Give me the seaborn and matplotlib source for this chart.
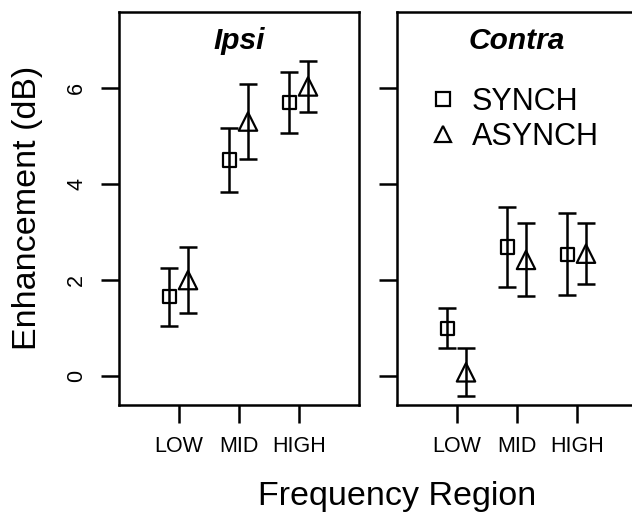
import numpy as np
import pandas as pd
import matplotlib
matplotlib.use('Agg')
import matplotlib.pyplot as plt
from matplotlib.lines import Line2D
import seaborn as sns

# data, mean and half-range of the error bar
regions = ['LOW', 'MID', 'HIGH']
conds = ['SYNCH', 'ASYNCH']
panels = ['Ipsi', 'Contra']

ipsi_synch = [1.65, 4.50, 5.70]
ipsi_synch_err = [0.61, 0.67, 0.64]
ipsi_asynch = [2.00, 5.30, 6.03]
ipsi_asynch_err = [0.68, 0.79, 0.53]

contra_synch = [1.00, 2.69, 2.54]
contra_synch_err = [0.42, 0.83, 0.85]
contra_asynch = [0.08, 2.42, 2.55]
contra_asynch_err = [0.50, 0.76, 0.63]

rows = []
vals = {('Ipsi', 'SYNCH'): (ipsi_synch, ipsi_synch_err),
        ('Ipsi', 'ASYNCH'): (ipsi_asynch, ipsi_asynch_err),
        ('Contra', 'SYNCH'): (contra_synch, contra_synch_err),
        ('Contra', 'ASYNCH'): (contra_asynch, contra_asynch_err)}
for (p, c), (m, e) in vals.items():
    for i, r in enumerate(regions):
        rows.append({'panel': p, 'cond': c, 'region': r, 'pos': i + 1, 'mean': m[i], 'err': e[i]})
df = pd.DataFrame(rows)

sns.set_theme(style='white')
plt.rcParams['font.family'] = ['Liberation Sans', 'DejaVu Sans']
plt.rcParams['text.color'] = 'black'
plt.rcParams['axes.labelcolor'] = 'black'

offset = {'SYNCH': -0.16, 'ASYNCH': 0.15}
marker = {'SYNCH': 's', 'ASYNCH': '^'}
msize = {'SYNCH': 90, 'ASYNCH': 175}
lw = 1.8

fig = plt.figure(figsize=(6.32, 5.16), dpi=100)
ax1 = fig.add_axes([119/632, 111/516, 240/632, 393/516])
ax2 = fig.add_axes([397/632, 111/516, 240/632, 393/516])

for ax, p in zip([ax1, ax2], panels):
    for c in conds:
        d = df[(df.panel == p) & (df.cond == c)].copy()
        d['x'] = d['pos'] + offset[c]
        ax.errorbar(d['x'], d['mean'], yerr=d['err'], fmt='none', ecolor='black',
                    elinewidth=lw, capsize=6.5, capthick=lw, zorder=2)
        sns.scatterplot(data=d, x='x', y='mean', marker=marker[c], s=msize[c],
                        color='black', facecolor='none', edgecolor='black',
                        linewidth=1.6, ax=ax, zorder=3, legend=False)
    ax.set_xlim(0, 4)
    ax.set_ylim(-0.6, 7.58)
    ax.set_xticks([1, 2, 3])
    ax.set_xticklabels(regions)
    ax.set_yticks([0, 2, 4, 6])
    ax.set_xlabel('')
    ax.set_ylabel('')
    for s in ax.spines.values():
        s.set_visible(True)
        s.set_color('black')
        s.set_linewidth(lw)
    ax.tick_params(axis='both', which='major', length=13, width=lw, color='black',
                   labelsize=15.5, labelcolor='black', left=True, bottom=True)
    ax.tick_params(axis='x', pad=9)
    ax.tick_params(axis='y', pad=10)
    ax.text(0.5, 0.925, p, transform=ax.transAxes, ha='center', va='center',
            fontsize=21.5, fontweight='bold', fontstyle='italic')

plt.setp(ax1.get_yticklabels(), rotation=90, va='center')
ax2.set_yticklabels([])

handles = [Line2D([], [], marker='s', ls='none', mfc='none', mec='black', ms=9.5, mew=1.6),
           Line2D([], [], marker='^', ls='none', mfc='none', mec='black', ms=11, mew=1.6)]
ax2.legend(handles, conds, loc='upper left', bbox_to_anchor=(0.063, 0.848), frameon=False,
           fontsize=22, handlelength=1.0, handletextpad=0.45, labelspacing=0.15, borderpad=0)

fig.text(28/632, 1 - 208/516, 'Enhancement (dB)', rotation=90, ha='center', va='center', fontsize=24.5)
fig.text(397/632, 1 - 496/516, 'Frequency Region', ha='center', va='center', fontsize=24.5)

fig.savefig('out.png', dpi=100)
